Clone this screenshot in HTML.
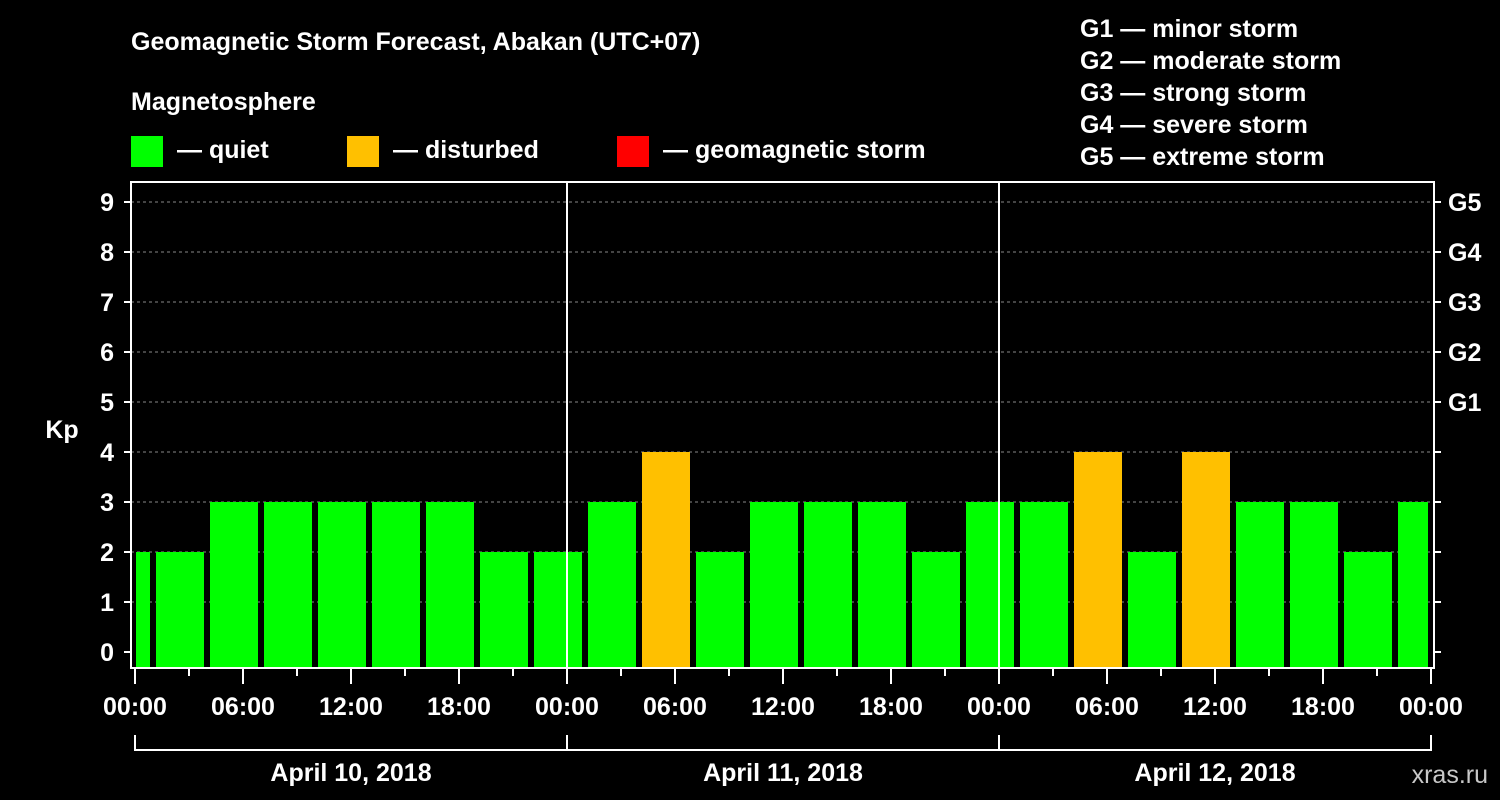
<!DOCTYPE html>
<html><head><meta charset="utf-8"><style>
body{margin:0;background:#000;width:1500px;height:800px;overflow:hidden}
svg{display:block}
text{font-family:"Liberation Sans",Arial,sans-serif;font-weight:bold;fill:#fff}
</style></head><body>
<svg id="c" width="1500" height="800">
<text x="131" y="50" font-size="25">Geomagnetic Storm Forecast, Abakan (UTC+07)</text>
<text x="131" y="110" font-size="25">Magnetosphere</text>
<rect x="131" y="136" width="32" height="31" fill="#00ff00"/>
<text x="177" y="158" font-size="25">— quiet</text>
<rect x="347" y="136" width="32" height="31" fill="#ffc000"/>
<text x="393" y="158" font-size="25">— disturbed</text>
<rect x="617" y="136" width="32" height="31" fill="#ff0000"/>
<text x="663" y="158" font-size="25">— geomagnetic storm</text>
<g font-size="25">
<text x="1080" y="37">G1 — minor storm</text>
<text x="1080" y="69">G2 — moderate storm</text>
<text x="1080" y="101">G3 — strong storm</text>
<text x="1080" y="133">G4 — severe storm</text>
<text x="1080" y="165">G5 — extreme storm</text>
</g>
<text x="62" y="438" font-size="25" text-anchor="middle">Kp</text>
<text x="1488" y="783" font-size="25" text-anchor="end" fill="#ccc" style="fill:#c8c8c8;font-weight:normal">xras.ru</text>
<g id="g"></g>
</svg>
<script>
const kpValues=[2,2,3,3,3,3,3,2,2,3,4,2,3,3,3,2,3,3,4,2,4,3,3,2,3];
const barStartHours=[-2,1,4,7,10,13,16,19,22,25,28,31,34,37,40,43,46,49,52,55,58,61,64,67,70];
const yTicks=[0,1,2,3,4,5,6,7,8,9];
const gLabels=["G1","G2","G3","G4","G5"];
const xTickLabels=["00:00","06:00","12:00","18:00","00:00","06:00","12:00","18:00","00:00","06:00","12:00","18:00","00:00"];
const dayLabels=["April 10, 2018","April 11, 2018","April 12, 2018"];
const NS="http://www.w3.org/2000/svg",g=document.getElementById('g');
const L=131,R=1434,T=182,B=668,X0=135,PH=18;
const x=h=>X0+h*PH, y=v=>652-v*50;
function mk(t,a,p){const e=document.createElementNS(NS,t);for(const k in a)e.setAttribute(k,a[k]);(p||g).appendChild(e);return e;}
yTicks.forEach(v=>{if(v>0){const l=mk('line',{x1:L,x2:R,y1:y(v),y2:y(v),stroke:'#888','stroke-dasharray':'3,3'});

}
mk('line',{x1:L,x2:L-7,y1:y(v),y2:y(v),stroke:'#fff','stroke-width':2});
const t=mk('text',{x:114,y:y(v)+9,'font-size':25,'text-anchor':'end'});t.textContent=v;


if(v<=4)mk('line',{x1:R,x2:R+7,y1:y(v),y2:y(v),stroke:'#fff','stroke-width':2});});
gLabels.forEach((s,i)=>{mk('line',{x1:R,x2:R+7,y1:y(5+i),y2:y(5+i),stroke:'#fff','stroke-width':2});
const t=mk('text',{x:1448,y:y(5+i)+9,'font-size':25});t.textContent=s;

});
kpValues.forEach((v,i)=>{let a=x(barStartHours[i])+3,b=x(barStartHours[i]+3)-3;a=Math.max(a,X0+1);b=Math.min(b,x(72)-3);
const c=v>=5?'#ff0000':(v>=4?'#ffc000':'#00ff00');
const r=mk('rect',{x:a,y:y(v),width:b-a,height:B-1-y(v),fill:c});

});
[1,2].forEach(d=>mk('line',{x1:x(d*24),x2:x(d*24),y1:T,y2:B,stroke:'#fff','stroke-width':2}));
const f=mk('rect',{x:L,y:T,width:R-L,height:B-T,fill:'none',stroke:'#fff','stroke-width':2});


for(let h=0;h<=72;h+=3)mk('line',{x1:x(h),x2:x(h),y1:B,y2:B+(h%6?8:16),stroke:'#fff','stroke-width':2});
xTickLabels.forEach((s,i)=>{const t=mk('text',{x:x(i*6),y:715,'font-size':25,'text-anchor':'middle'});t.textContent=s;

});
dayLabels.forEach((s,i)=>{mk('path',{d:`M${x(i*24)},735V750H${x(i*24+24)}V735`,fill:'none',stroke:'#fff','stroke-width':2});
const t=mk('text',{x:x(i*24+12),y:781,'font-size':25,'text-anchor':'middle'});t.textContent=s;

});
</script>
</body></html>
